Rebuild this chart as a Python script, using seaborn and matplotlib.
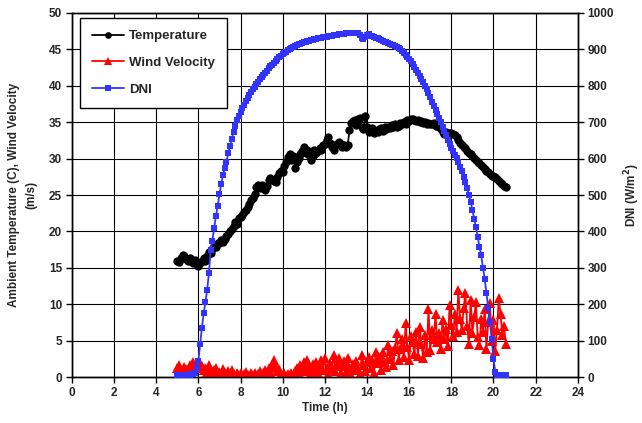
import numpy as np
import pandas as pd
import matplotlib
matplotlib.use("Agg")
import matplotlib.pyplot as plt
import seaborn as sns

# time stamps every 5 minutes from 5:00 to 20:35
time_h = np.round(5.0 + np.arange(188) / 12.0, 4)

temperature = [
    16.0, 15.8, 16.4, 16.8, 16.6, 16.2, 15.9, 16.3, 15.9, 15.6, 16.1, 15.5,
    15.2, 15.6, 16.0, 16.4, 16.0, 16.6, 17.2, 17.0, 17.6, 18.0, 17.8, 18.4,
    18.4, 18.8, 18.6, 19.0, 19.4, 19.6, 20.0, 20.3, 20.8, 21.3, 21.0, 21.8,
    22.0, 22.3, 22.6, 22.9, 23.4, 23.8, 24.3, 24.6, 25.2, 26.1, 26.4, 26.0,
    26.4, 25.9, 25.7, 26.3, 27.0, 27.3, 27.1, 26.9, 26.8, 27.5, 28.0, 28.3,
    28.2, 29.0, 29.6, 30.2, 30.6, 29.8, 30.3, 28.7, 29.5, 30.1, 30.6, 31.0,
    31.6, 30.8, 31.2, 30.5, 29.8, 30.4, 31.2, 30.8, 31.0, 31.5, 31.2, 31.8,
    32.0, 32.5, 33.0, 32.2, 31.6, 31.2, 31.8, 32.0, 32.3, 32.0, 31.6, 31.8,
    31.6, 31.8, 33.9, 34.9, 35.1, 35.3, 34.6, 35.5, 35.6, 34.4, 34.0, 35.8,
    34.3, 33.7, 33.9, 34.2, 33.5, 33.8, 33.6, 34.0, 34.2, 33.8, 34.3, 34.1,
    34.4, 34.2, 34.6, 34.3, 34.8, 34.4, 34.5, 34.9, 34.7, 35.0, 34.8, 35.3,
    35.2, 35.4, 35.5, 35.3, 35.1, 35.3, 35.0, 35.2, 34.9, 35.0, 34.8, 34.9,
    34.8, 34.7, 34.9, 34.5, 34.6, 34.3, 34.0, 33.6, 33.4, 33.6, 33.3, 33.5,
    33.5, 33.4, 33.3, 33.0, 32.6, 32.2, 31.9, 31.6, 31.4, 31.1, 30.8, 30.6,
    30.3, 30.1, 29.8, 29.6, 29.4, 29.1, 28.9, 28.6, 28.3, 28.1, 27.9, 27.6,
    27.6, 27.5, 27.2, 26.9, 26.7, 26.5, 26.3, 26.1,
]

wind = [
    1.2, 1.6, 1.0, 0.8, 1.4, 1.1, 0.9, 1.7, 1.3, 2.0, 1.5, 1.8,
    1.2, 1.9, 1.5, 0.9, 1.3, 0.7, 1.6, 1.0, 0.6, 0.9, 1.3, 0.5,
    0.7, 0.4, 1.1, 0.6, 0.3, 0.8, 0.5, 1.0, 0.4, 0.2, 0.6, 0.3,
    0.5, 0.2, 0.4, 0.7, 0.3, 0.1, 0.5, 0.3, 0.6, 0.2, 0.4, 0.8,
    0.3, 0.6, 0.9, 0.4, 1.2, 0.7, 1.6, 2.3, 1.4, 0.8, 1.1, 0.4,
    0.3, 0.5, 0.2, 0.4, 0.3, 0.6, 0.2, 0.8, 1.2, 0.5, 1.6, 0.9,
    2.0, 0.8, 2.3, 1.2, 0.6, 1.8, 1.0, 2.1, 0.5, 1.4, 2.4, 0.9,
    2.6, 1.1, 0.4, 1.9, 1.3, 3.0, 0.8, 1.6, 2.6, 0.6, 1.5, 2.2,
    0.7, 2.6, 1.2, 0.3, 1.8, 0.9, 2.2, 1.1, 0.4, 3.0, 1.7, 0.8,
    2.0, 2.8, 1.2, 2.3, 0.6, 3.5, 1.9, 2.7, 1.0, 3.5, 2.1, 1.4,
    4.4, 2.5, 3.6, 1.6, 4.0, 6.0, 2.3, 3.8, 5.2, 2.8, 7.4, 4.1,
    2.3, 5.6, 4.8, 3.1, 6.2, 2.9, 6.9, 4.5, 2.6, 5.8, 3.4, 9.4,
    3.7, 6.5, 5.2, 8.7, 4.8, 6.0, 3.9, 7.8, 5.2, 6.6, 4.2, 9.9,
    7.1, 5.6, 8.7, 6.2, 12.0, 8.0, 6.4, 9.5, 11.5, 7.0, 4.6, 10.6,
    6.0, 8.2, 10.3, 5.5, 4.4, 8.0, 6.2, 9.4, 3.8, 7.6, 10.1, 5.0,
    7.8, 3.6, 6.4, 10.8, 8.7, 5.8, 7.0, 4.6,
]

dni = [
    5, 5, 5, 5, 5, 5, 6, 6, 7, 8, 12, 25,
    45, 90, 135, 175, 205, 240, 285, 350, 375, 410, 442, 470,
    502, 531, 556, 575, 592, 615, 635, 655, 672, 690, 705, 718,
    728, 738, 748, 758, 766, 774, 782, 790, 797, 804, 811, 818,
    824, 830, 836, 842, 848, 853, 858, 863, 868, 873, 878, 882,
    886, 890, 894, 897, 900, 903, 906, 909, 912, 914, 916, 918,
    920, 921, 923, 924, 926, 927, 928, 929, 930, 931, 932, 933,
    934, 935, 936, 937, 938, 939, 940, 940, 941, 942, 942, 943,
    944, 944, 945, 945, 944, 946, 945, 944, 940, 932, 928, 935,
    940, 941, 938, 936, 934, 932, 930, 928, 926, 923, 921, 919,
    917, 915, 913, 911, 909, 907, 904, 900, 896, 891, 885, 879,
    874, 867, 859, 851, 843, 835, 827, 819, 810, 800, 790, 780,
    768, 756, 745, 733, 722, 711, 700, 688, 676, 664, 652, 640,
    630, 620, 610, 602, 590, 578, 565, 550, 535, 518, 500, 482,
    458, 435, 412, 385, 358, 335, 300, 270, 230, 190, 150, 105,
    50, 15, 6, 5, 5, 5, 5, 5,
]

x_ticks = list(range(0, 25, 2))
left_ticks = list(range(0, 51, 5))
right_ticks = list(range(0, 1001, 100))

df = pd.DataFrame({"time": time_h, "temp": temperature, "wind": wind, "dni": dni})

sns.set_theme(style="ticks")
plt.rcParams["font.family"] = ["Liberation Sans", "DejaVu Sans"]
plt.rcParams["font.weight"] = "bold"

fig = plt.figure(figsize=(6.42, 4.23), dpi=100)
ax = fig.add_axes([0.112, 0.1087, 0.788, 0.8606])
ax2 = ax.twinx()

sns.lineplot(data=df, x="time", y="temp", ax=ax, color="black", marker="o",
             markersize=6, markeredgewidth=0, linewidth=1.3, label="Temperature",
             legend=False, zorder=3)
sns.lineplot(data=df, x="time", y="wind", ax=ax, color="#FF0000", marker="^",
             markersize=6.5, markeredgewidth=0, linewidth=1.3, label="Wind Velocity",
             legend=False, zorder=3)
sns.lineplot(data=df, x="time", y="dni", ax=ax2, color="#3333FF", marker="s",
             markersize=5, markeredgewidth=0, linewidth=1.3, label="DNI",
             legend=False, zorder=3)

ax.set_xlim(0, 24)
ax.set_ylim(0, 50)
ax2.set_ylim(0, 1000)
ax.set_xticks(x_ticks)
ax.set_yticks(left_ticks)
ax2.set_yticks(right_ticks)

ax.grid(True, color="black", linewidth=0.8)
ax.set_axisbelow(True)

for a in (ax, ax2):
    for s in a.spines.values():
        s.set_color("black")
        s.set_linewidth(1.0)
    a.tick_params(direction="out", length=4, width=1, color="black",
                  labelsize=8.5, pad=3)
    for lbl in a.get_xticklabels() + a.get_yticklabels():
        lbl.set_fontweight("bold")

ax.set_xlabel("Time (h)", fontsize=8.5, fontweight="bold", labelpad=2)
ax.set_ylabel("Ambient Temperature (C), Wind Velocity\n(m/s)", fontsize=8.5,
              fontweight="bold", linespacing=1.6)
ax.yaxis.set_label_coords(-0.068, 0.5)
ax2.set_ylabel("DNI (W/m$^\\mathbf{2}$)", fontsize=8.5, fontweight="bold")
ax2.yaxis.set_label_coords(1.088, 0.5)

h1, l1 = ax.get_legend_handles_labels()
h2, l2 = ax2.get_legend_handles_labels()
leg = ax2.legend(h1 + h2, l1 + l2, loc="upper left", bbox_to_anchor=(0.016, 0.986),
                 borderaxespad=0, frameon=True, fancybox=False, edgecolor="black",
                 framealpha=1, fontsize=9.5, labelspacing=1.1, handlelength=2.4,
                 borderpad=0.9, handletextpad=0.4, markerscale=0.8)
leg.get_frame().set_linewidth(1.0)
for t in leg.get_texts():
    t.set_fontweight("bold")

fig.savefig("out.png", dpi=100)
